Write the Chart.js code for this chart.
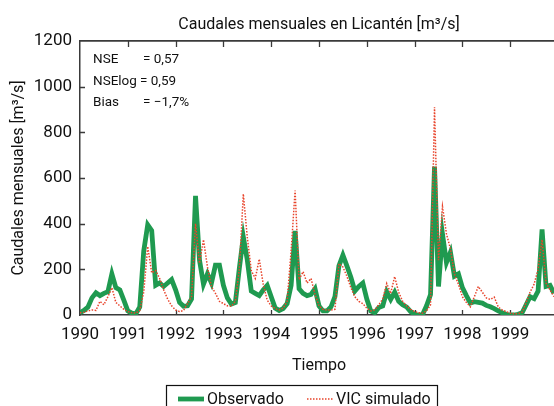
<!DOCTYPE html>
<html>
<head>
<meta charset="utf-8">
<script src="https://cdn.jsdelivr.net/npm/chart.js@4.4.0/dist/chart.umd.min.js"></script>
<style>
  body { margin: 0; overflow: hidden; background: #fff; }
  canvas { display: block; }
</style>
</head>
<body>
<canvas id="caudalChart" width="600" height="430"></canvas>
<script>
// monthly flows, Jan 1990 .. Dec 1999 [m3/s]
const startYear = 1990;

const observado = [
  10, 20, 35, 75, 97, 85, 95, 102, 180, 120, 110, 65,
  18, 8, 5, 35, 280, 395, 370, 130, 140, 125, 140, 155,
  110, 55, 38, 40, 70, 522, 240, 135, 180, 140, 218, 218,
  130, 75, 48, 55, 205, 342, 240, 105, 95, 85, 110, 130,
  80, 30, 20, 28, 50, 130, 368, 115, 95, 85, 90, 115,
  40, 18, 18, 35, 80, 215, 262, 215, 165, 105, 125, 140,
  70, 18, 10, 33, 40, 102, 68, 100, 60, 45, 35, 15,
  3, 0, 2, 40, 90, 650, 125, 355, 230, 275, 170, 180,
  120, 85, 52, 58, 55, 52, 42, 36, 28, 18, 10, 3,
  0, 0, 3, 10, 45, 80, 72, 105, 375, 125, 130, 95
];

const vicSimulado = [
  10, 12, 18, 22, 20, 60, 45, 80, 120, 55, 40, 25,
  15, 10, 8, 20, 100, 300, 185, 195, 160, 110, 70, 40,
  22, 15, 20, 50, 80, 400, 227, 330, 210, 125, 95, 60,
  50, 40, 38, 60, 200, 530, 340, 195, 160, 245, 135, 65,
  40, 28, 22, 30, 60, 280, 545, 155, 190, 140, 160, 90,
  40, 25, 22, 22, 25, 225, 210, 170, 120, 80, 60, 50,
  30, 18, 22, 45, 70, 138, 95, 168, 100, 60, 40, 25,
  15, 10, 8, 18, 45, 910, 240, 475, 355, 290, 180, 135,
  80, 55, 36, 80, 125, 100, 75, 68, 78, 35, 22, 15,
  8, 5, 6, 12, 55, 100, 135, 200, 330, 140, 110, 80
];

const statLabels = ["NSE", "NSElog", "Bias"];
const statValues = ["= 0,57", "= 0,59", "= \u22121,7%"];

const FONT = "Roboto, 'Liberation Sans', sans-serif";
const AXIS_COLOR = "#3a3a3a";

const toPoints = (arr) => arr.map((v, i) => ({ x: startYear + i / 12, y: v }));

// small inward tick marks on left, bottom and top edges
const inwardTicks = {
  id: "inwardTicks",
  beforeDatasetsDraw(chart) {
    const { ctx, chartArea } = chart;
    const x = chart.scales.x;
    const y = chart.scales.y;
    ctx.save();
    ctx.strokeStyle = AXIS_COLOR;
    ctx.lineWidth = 1.3;
    ctx.beginPath();
    x.ticks.forEach((t) => {
      if (t.value <= startYear) return;
      const px = Math.round(x.getPixelForValue(t.value)) + 0.5;
      ctx.moveTo(px, chartArea.bottom);
      ctx.lineTo(px, chartArea.bottom - 5);
      ctx.moveTo(px, chartArea.top);
      ctx.lineTo(px, chartArea.top + 6);
    });
    y.ticks.forEach((t) => {
      if (t.value <= 0 || t.value >= 1200) return;
      const py = Math.round(y.getPixelForValue(t.value)) + 0.5;
      ctx.moveTo(chartArea.left, py);
      ctx.lineTo(chartArea.left + 5, py);
    });
    ctx.stroke();
    ctx.restore();
  }
};

// goodness-of-fit text in the upper left corner
const statsBox = {
  id: "statsBox",
  afterDraw(chart) {
    const { ctx } = chart;
    const valueX = [143, 140, 143];
    ctx.save();
    ctx.fillStyle = "#111";
    ctx.font = "13.5px " + FONT;
    ctx.textBaseline = "alphabetic";
    statLabels.forEach((lbl, i) => {
      const by = 63 + i * 21.5;
      ctx.fillText(lbl, 93, by);
      ctx.fillText(statValues[i], valueX[i], by);
    });
    ctx.restore();
  }
};

// framed legend under the axis title
const legendBox = {
  id: "legendBox",
  afterDraw(chart) {
    const { ctx } = chart;
    const sets = chart.data.datasets;
    const items = [
      { ds: sets[0], x0: 178, x1: 204, tx: 207 },
      { ds: sets[1], x0: 307, x1: 333, tx: 336 }
    ];
    const cy = 399;
    ctx.save();
    ctx.strokeStyle = "#111";
    ctx.lineWidth = 1.2;
    ctx.strokeRect(166.5, 385.5, 271, 40);
    items.forEach((it) => {
      ctx.beginPath();
      ctx.strokeStyle = it.ds.borderColor;
      ctx.lineWidth = it.ds.borderWidth;
      ctx.setLineDash(it.ds.borderDash || []);
      ctx.moveTo(it.x0, cy);
      ctx.lineTo(it.x1, cy);
      ctx.stroke();
      ctx.setLineDash([]);
      ctx.fillStyle = "#111";
      ctx.font = "16px " + FONT;
      ctx.textBaseline = "middle";
      ctx.fillText(it.ds.label, it.tx, cy + 1);
    });
    ctx.restore();
  }
};

new Chart(document.getElementById("caudalChart"), {
  type: "line",
  data: {
    datasets: [
      {
        label: "Observado",
        data: toPoints(observado),
        borderColor: "#1f9a50",
        borderWidth: 4.8,
        pointRadius: 0,
        tension: 0,
        order: 1
      },
      {
        label: "VIC simulado",
        data: toPoints(vicSimulado),
        borderColor: "#e8432a",
        borderWidth: 1.5,
        borderDash: [1.5, 1.5],
        pointRadius: 0,
        tension: 0,
        order: 0
      }
    ]
  },
  options: {
    responsive: false,
    devicePixelRatio: 1,
    animation: false,
    layout: { padding: { left: 0, right: 42, top: 0, bottom: 0 } },
    plugins: {
      legend: { display: false },
      tooltip: { enabled: false },
      title: {
        display: true,
        fullSize: false,
        text: "Caudales mensuales en Licantén [m³/s]",
        color: "#111",
        font: { family: FONT, size: 16, weight: "normal" },
        padding: { top: 15, bottom: 0 }
      }
    },
    scales: {
      x: {
        type: "linear",
        position: "bottom",
        min: 1990,
        max: 2000,
        grid: { display: false, drawTicks: false },
        border: { display: true, color: AXIS_COLOR, width: 1.5 },
        ticks: {
          stepSize: 1,
          autoSkip: false,
          maxRotation: 0,
          padding: 10,
          color: "#111",
          font: { family: FONT, size: 17 },
          callback: (v) => (v < 2000 ? String(v) : "")
        },
        title: {
          display: true,
          text: "Tiempo",
          color: "#111",
          font: { family: FONT, size: 16 },
          padding: { top: 0, bottom: 54 }
        },
        afterFit: (s) => { s.height = 115; }
      },
      x2: {
        type: "linear",
        position: "top",
        min: 1990,
        max: 2000,
        grid: { display: false, drawTicks: false },
        border: { display: true, color: AXIS_COLOR, width: 1.8 },
        ticks: { display: false },
        afterFit: (s) => { s.height = 6.8; }
      },
      y: {
        min: 0,
        max: 1200,
        grid: { display: false, drawTicks: false },
        border: { display: true, color: AXIS_COLOR, width: 1.5 },
        ticks: {
          stepSize: 200,
          padding: 8,
          color: "#111",
          font: { family: FONT, size: 17 },
          callback: (v) => String(v)
        },
        title: {
          display: true,
          text: "Caudales mensuales [m³/s]",
          color: "#111",
          font: { family: FONT, size: 16 },
          padding: { top: 9, bottom: 0 }
        },
        afterFit: (s) => { s.width = 80; }
      }
    }
  },
  plugins: [inwardTicks, statsBox, legendBox]
});
</script>
</body>
</html>
